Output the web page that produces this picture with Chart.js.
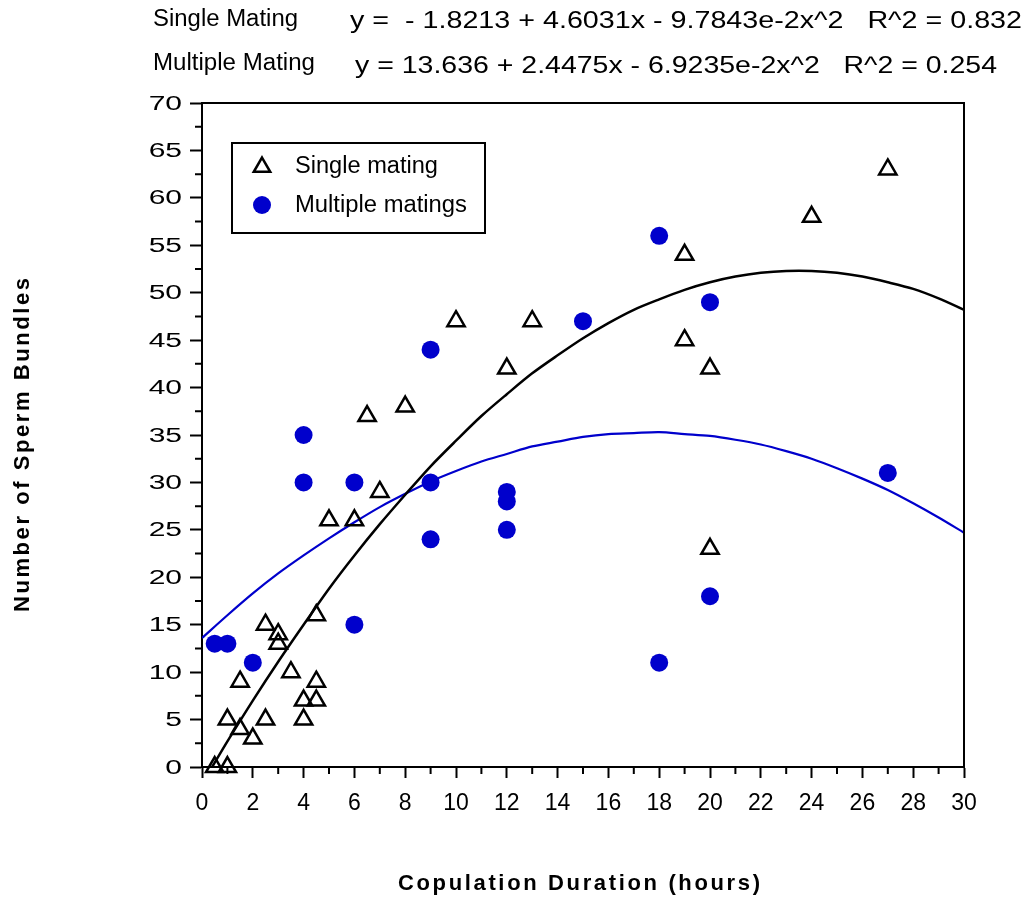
<!DOCTYPE html>
<html>
<head>
<meta charset="utf-8">
<script src="https://cdn.jsdelivr.net/npm/chart.js@4/dist/chart.umd.min.js"></script>
<style>
  html, body { margin: 0; padding: 0; background: #fff; }
  #wrap { width: 1029px; height: 899px; }
</style>
</head>
<body>
<div id="wrap"><canvas id="chart" width="1029" height="899"></canvas></div>
<script>
// single mating observations (hours, bundles)
const singleX = [0.5, 1, 1, 1.5, 1.5, 2, 2.5, 2.5, 3, 3, 3.5, 4, 4, 4.5, 4.5, 4.5, 5, 6, 6.5, 7, 8, 10, 12, 13, 19, 19, 20, 20, 24, 27];
const singleY = [0, 0, 5, 4, 9, 3, 15, 5, 14, 13, 10, 7, 5, 16, 9, 7, 26, 26, 37, 29, 38, 47, 42, 47, 54, 45, 42, 23, 58, 63];

// multiple matings observations
const multiX = [0.5, 1, 2, 4, 4, 6, 6, 9, 9, 9, 12, 12, 12, 15, 18, 18, 20, 20, 27];
const multiY = [13, 13, 11, 35, 30, 30, 15, 44, 30, 24, 29, 28, 25, 47, 56, 11, 49, 18, 31];

// fitted curves
const singleFitX = [0.4, 1, 2, 3, 4, 5, 6, 7, 8, 9, 10, 11, 12, 13, 14, 15, 16, 17, 18, 19, 20, 21, 22, 23, 24, 25, 26, 27, 28, 29, 30];
const singleFitY = [0, 2.7, 7.0, 11.1, 15.0, 18.8, 22.3, 25.6, 28.7, 31.7, 34.4, 37.0, 39.3, 41.5, 43.4, 45.2, 46.8, 48.2, 49.3, 50.3, 51.1, 51.7, 52.1, 52.3, 52.3, 52.1, 51.7, 51.1, 50.4, 49.4, 48.2];
const multiFitX = [0, 1, 2, 3, 4, 5, 6, 7, 8, 9, 10, 11, 12, 13, 14, 15, 16, 17, 18, 19, 20, 21, 22, 23, 24, 25, 26, 27, 28, 29, 30];
const multiFitY = [13.6, 16.0, 18.3, 20.4, 22.3, 24.1, 25.8, 27.4, 28.8, 30.1, 31.2, 32.2, 33.0, 33.8, 34.3, 34.8, 35.1, 35.2, 35.3, 35.1, 34.9, 34.5, 34.0, 33.3, 32.5, 31.5, 30.4, 29.2, 27.8, 26.3, 24.7];

const legendLabels = ['Single mating', 'Multiple matings'];
const equationNames = ['Single Mating', 'Multiple Mating'];
const equations = [
    'y =  - 1.8213 + 4.6031x - 9.7843e-2x^2   R^2 = 0.832',
    'y = 13.636 + 2.4475x - 6.9235e-2x^2   R^2 = 0.254'
];
const xTitle = 'Copulation Duration (hours)';
const yTitle = 'Number of Sperm Bundles';

const BLUE = '#0000cc';
const SANS = "'Liberation Sans', Arial, sans-serif";

const toPoints = (xs, ys) => xs.map((x, i) => ({ x: x, y: ys[i] }));

// draw text squeezed/stretched between left and right
function fitText(ctx, text, left, right, y, font, spaced) {
    ctx.font = font;
    ctx.textAlign = 'left';
    ctx.textBaseline = 'middle';
    const w = ctx.measureText(text).width;
    if (spaced && 'letterSpacing' in ctx) {
        ctx.letterSpacing = ((right - left - w) / (text.length - 1)) + 'px';
        ctx.fillText(text, left, y);
        ctx.letterSpacing = '0px';
    } else {
        ctx.save();
        ctx.translate(left, y);
        ctx.scale((right - left) / w, 1);
        ctx.fillText(text, 0, 0);
        ctx.restore();
    }
}

function triangle(ctx, x, y, r) {
    ctx.beginPath();
    let rad = 0;
    for (let k = 0; k < 3; k++) {
        const px = x + Math.sin(rad) * r, py = y - Math.cos(rad) * r;
        if (k === 0) ctx.moveTo(px, py); else ctx.lineTo(px, py);
        rad += Math.PI * 2 / 3;
    }
    ctx.closePath();
}

const decor = {
    id: 'decor',
    afterDraw(chart) {
        const { ctx, chartArea: a } = chart;
        const xs = chart.scales.x, ys = chart.scales.y;
        ctx.save();
        ctx.strokeStyle = '#000';
        ctx.fillStyle = '#000';
        ctx.lineWidth = 2;

        // top and right frame
        ctx.beginPath();
        ctx.moveTo(a.left - 1, a.top);
        ctx.lineTo(a.right, a.top);
        ctx.lineTo(a.right, a.bottom);
        ctx.stroke();

        // minor ticks halfway between major ones
        ctx.beginPath();
        for (let i = 0; i < xs.ticks.length - 1; i++) {
            const px = xs.getPixelForValue((xs.ticks[i].value + xs.ticks[i + 1].value) / 2);
            ctx.moveTo(px, a.bottom);
            ctx.lineTo(px, a.bottom + 7);
        }
        for (let i = 0; i < ys.ticks.length - 1; i++) {
            const py = ys.getPixelForValue((ys.ticks[i].value + ys.ticks[i + 1].value) / 2);
            ctx.moveTo(a.left, py);
            ctx.lineTo(a.left - 7, py);
        }
        ctx.stroke();

        // y tick labels (wide face)
        ctx.font = '20px ' + SANS;
        ctx.textAlign = 'right';
        ctx.textBaseline = 'middle';
        ys.ticks.forEach(t => {
            const py = ys.getPixelForValue(t.value);
            ctx.save();
            ctx.translate(a.left - 20, py + 1);
            ctx.scale(1.5, 1);
            ctx.fillText(String(t.value), 0, 0);
            ctx.restore();
        });

        // header equations
        fitText(ctx, equationNames[0], 153, 298, 20, '23px ' + SANS);
        fitText(ctx, equationNames[1], 153, 315, 64, '23px ' + SANS);
        fitText(ctx, equations[0], 350, 1022, 21, '24px ' + SANS);
        fitText(ctx, equations[1], 355, 997, 66, '24px ' + SANS);

        // axis titles
        fitText(ctx, xTitle, 398, 760, 884, 'bold 22px ' + SANS, true);
        ctx.save();
        ctx.translate(23, 612);
        ctx.rotate(-Math.PI / 2);
        fitText(ctx, yTitle, 0, 334, 0, 'bold 22px ' + SANS, true);
        ctx.restore();

        // legend box
        ctx.lineWidth = 2;
        ctx.strokeRect(232, 143, 253, 90);
        ctx.lineWidth = 2.5;
        triangle(ctx, 262, 167, 9.5);
        ctx.stroke();
        ctx.fillStyle = BLUE;
        ctx.beginPath();
        ctx.arc(262, 205, 9, 0, Math.PI * 2);
        ctx.fill();
        ctx.fillStyle = '#000';
        fitText(ctx, legendLabels[0], 295, 438, 167, '23px ' + SANS);
        fitText(ctx, legendLabels[1], 295, 467, 206, '23px ' + SANS);

        ctx.restore();
    }
};

const ctx = document.getElementById('chart').getContext('2d');
new Chart(ctx, {
    type: 'scatter',
    data: {
        datasets: [
            {
                label: legendLabels[0],
                data: toPoints(singleX, singleY),
                pointStyle: 'triangle',
                pointRadius: 10,
                pointBorderWidth: 2.5,
                borderWidth: 2.5,
                borderColor: '#000',
                pointBorderColor: '#000',
                backgroundColor: 'rgba(0,0,0,0)',
                pointBackgroundColor: 'rgba(0,0,0,0)',
                clip: false,
                order: 0
            },
            {
                label: legendLabels[1],
                data: toPoints(multiX, multiY),
                pointStyle: 'circle',
                pointRadius: 9,
                pointBorderWidth: 0,
                borderColor: BLUE,
                backgroundColor: BLUE,
                pointBackgroundColor: BLUE,
                clip: false,
                order: 0
            },
            {
                label: 'single fit',
                data: toPoints(singleFitX, singleFitY),
                showLine: true,
                pointRadius: 0,
                borderColor: '#000',
                borderWidth: 2.5,
                tension: 0.3,
                order: 1
            },
            {
                label: 'multiple fit',
                data: toPoints(multiFitX, multiFitY),
                showLine: true,
                pointRadius: 0,
                borderColor: BLUE,
                borderWidth: 2.2,
                tension: 0.3,
                order: 1
            }
        ]
    },
    options: {
        responsive: false,
        animation: false,
        layout: { padding: { top: 103, right: 65, left: 0, bottom: 0 } },
        plugins: {
            legend: { display: false },
            tooltip: { enabled: false }
        },
        scales: {
            x: {
                type: 'linear',
                min: 0,
                max: 30,
                afterFit(scale) { scale.height = 132; },
                ticks: {
                    stepSize: 2,
                    color: '#000',
                    padding: 12,
                    maxRotation: 0,
                    autoSkip: false,
                    font: { family: SANS, size: 23 }
                },
                grid: { drawOnChartArea: false, drawTicks: true, tickLength: 11, tickWidth: 2, tickColor: '#000' },
                border: { display: true, color: '#000', width: 2 }
            },
            y: {
                type: 'linear',
                min: 0,
                max: 70,
                afterFit(scale) { scale.width = 202; },
                ticks: { stepSize: 5, display: false },
                grid: { drawOnChartArea: false, drawTicks: true, tickLength: 12, tickWidth: 2, tickColor: '#000' },
                border: { display: true, color: '#000', width: 2 }
            }
        }
    },
    plugins: [decor]
});
</script>
</body>
</html>
